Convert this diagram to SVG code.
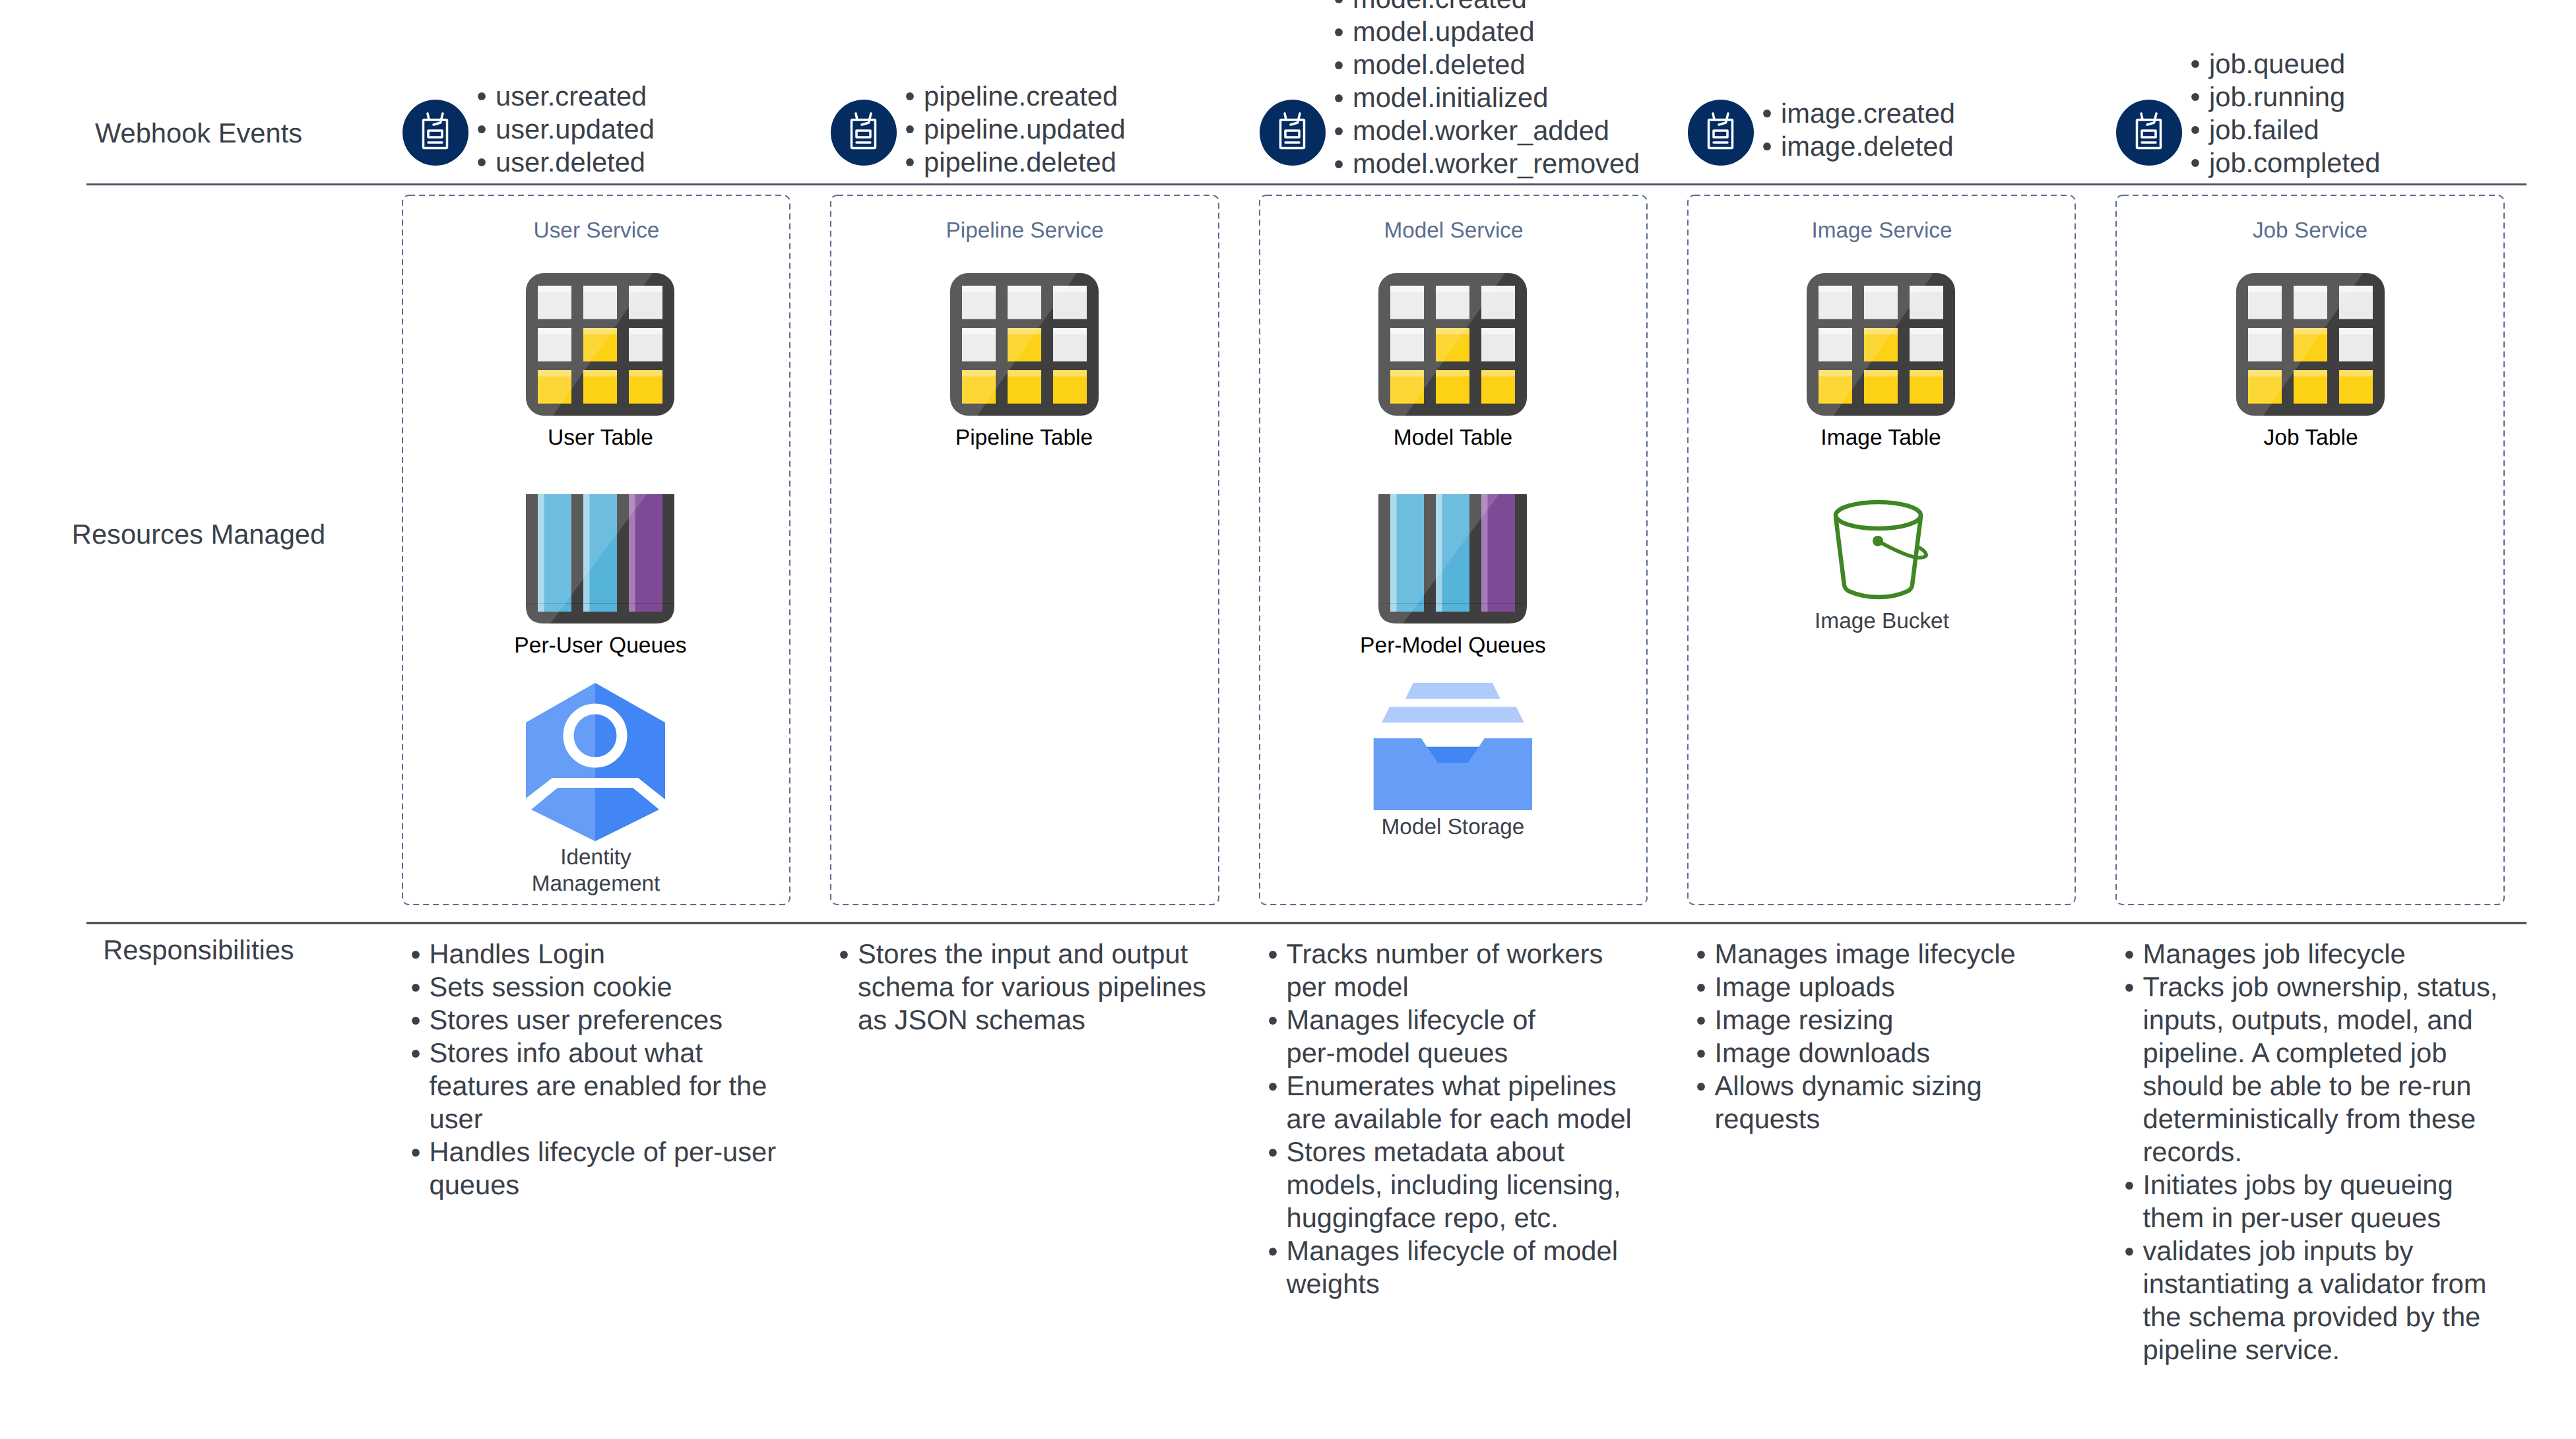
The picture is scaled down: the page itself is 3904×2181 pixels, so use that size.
<svg xmlns="http://www.w3.org/2000/svg" width="3904" height="2181" viewBox="0 0 3904 2181">
<style>
text{font-family:"Liberation Sans",Arial,sans-serif;text-rendering:geometricPrecision}
.t{font-size:41.67px;fill:#3a414a}
.m{text-anchor:middle}
.s{font-size:33.33px}
.svc{fill:#5a6e90}
.k{fill:#000;font-size:33.6px}
.g{fill:#3a414a}
.box{fill:none;stroke:#5a6e90;stroke-width:2;stroke-dasharray:9 6}
.b{fill:#3a414a}
.w{fill:none;stroke:#fff;stroke-width:3.5;stroke-linecap:round;stroke-linejoin:round}
</style>
<defs>
<clipPath id="tc"><rect width="225" height="216" rx="27"/></clipPath>
<clipPath id="qc"><path d="M1 0H224Q225 0 225 1V169Q225 196 198 196H27Q0 196 0 169V1Q0 0 1 0Z"/></clipPath>
<g id="cw"><rect width="51" height="51" fill="#ebebeb"/><rect width="51" height="9.5" fill="#f6f6f6"/><rect y="50" width="51" height="1" fill="#aaa"/></g>
<g id="cy"><rect width="51" height="51" fill="#fdd116"/><rect width="51" height="9.5" fill="#fedf62"/><rect y="50" width="51" height="1" fill="#c9a412"/></g>
<g id="table-icon"><g clip-path="url(#tc)"><rect width="225" height="216" fill="#3f3f3f"/>
<use href="#cw" x="18" y="19"/><use href="#cw" x="87" y="19"/><use href="#cw" x="156" y="19"/>
<use href="#cw" x="18" y="83"/><use href="#cy" x="87" y="83"/><use href="#cw" x="156" y="83"/>
<use href="#cy" x="18" y="147"/><use href="#cy" x="87" y="147"/><use href="#cy" x="156" y="147"/>
<path d="M0 0H192L41 216H0Z" fill="#fff" fill-opacity=".14"/></g></g>
<g id="queue-icon"><g clip-path="url(#qc)"><rect width="225" height="196" fill="#3f3f3f"/>
<rect x="18" width="51" height="178" fill="#56b3da"/><rect x="18" width="9.5" height="178" fill="#a0d5ea"/>
<rect x="87" width="51" height="178" fill="#56b3da"/><rect x="87" width="9.5" height="178" fill="#a0d5ea"/>
<rect x="156" width="51" height="178" fill="#7e4a96"/><rect x="156" width="9.5" height="178" fill="#a47cb8"/>
<rect y="165" width="225" height="1" fill="#000" fill-opacity=".18"/>
<path d="M0 0H183L37 196H0Z" fill="#fff" fill-opacity=".14"/></g></g>
<g id="badge"><circle cx="50" cy="50" r="50" fill="#042c61"/>
<rect x="31.5" y="30.5" width="36" height="43" rx="1.5" class="w"/>
<path class="w" d="M38 21L40 30M61 21L57.5 35L47 38"/>
<rect x="39" y="47" width="21" height="10" class="w"/>
<path class="w" d="M39 65H60"/></g>
<circle id="dot" r="5.9"/>
</defs>
<rect width="3904" height="2181" fill="#fff"/>

<g id="row-labels">
<text class="t m" x="301" y="216">Webhook Events</text>
<text class="t m" x="301" y="824">Resources Managed</text>
<text class="t m" x="301" y="1454">Responsibilities</text>
</g>

<g id="connectors">
<line x1="131" y1="279.5" x2="3829" y2="279.5" stroke="#4d5565" stroke-width="3"/>
<line x1="131" y1="1399" x2="3829" y2="1399" stroke="#3a414a" stroke-width="3"/>
</g>

<g id="user-events"><use href="#badge" x="610" y="151"/>
<g class="b"><use href="#dot" x="730" y="146"/><use href="#dot" x="730" y="196"/><use href="#dot" x="730" y="246"/></g>
<text class="t" x="751" y="160">user.created</text><text class="t" x="751" y="210">user.updated</text><text class="t" x="751" y="260">user.deleted</text></g>

<g id="pipeline-events"><use href="#badge" x="1259" y="151"/>
<g class="b"><use href="#dot" x="1379" y="146"/><use href="#dot" x="1379" y="196"/><use href="#dot" x="1379" y="246"/></g>
<text class="t" x="1400" y="160">pipeline.created</text><text class="t" x="1400" y="210">pipeline.updated</text><text class="t" x="1400" y="260">pipeline.deleted</text></g>

<g id="model-events"><use href="#badge" x="1909" y="151"/>
<g class="b"><use href="#dot" x="2029" y="-1"/><use href="#dot" x="2029" y="49"/><use href="#dot" x="2029" y="99"/><use href="#dot" x="2029" y="149"/><use href="#dot" x="2029" y="199"/><use href="#dot" x="2029" y="249"/></g>
<text class="t" x="2050" y="12">model.created</text><text class="t" x="2050" y="62">model.updated</text><text class="t" x="2050" y="112">model.deleted</text><text class="t" x="2050" y="162">model.initialized</text><text class="t" x="2050" y="212">model.worker_added</text><text class="t" x="2050" y="262">model.worker_removed</text></g>

<g id="image-events"><use href="#badge" x="2558" y="151"/>
<g class="b"><use href="#dot" x="2678" y="172"/><use href="#dot" x="2678" y="222"/></g>
<text class="t" x="2699" y="186">image.created</text><text class="t" x="2699" y="236">image.deleted</text></g>

<g id="job-events"><use href="#badge" x="3207" y="151"/>
<g class="b"><use href="#dot" x="3327" y="97"/><use href="#dot" x="3327" y="147"/><use href="#dot" x="3327" y="197"/><use href="#dot" x="3327" y="247"/></g>
<text class="t" x="3348" y="111">job.queued</text><text class="t" x="3348" y="161">job.running</text><text class="t" x="3348" y="211">job.failed</text><text class="t" x="3348" y="261">job.completed</text></g>

<g id="user-service"><rect class="box" x="610" y="296" width="587" height="1075" rx="10"/>
<text class="s svc m" x="904" y="360">User Service</text>
<use href="#table-icon" x="797" y="414"/><text class="s k m" x="910" y="674">User Table</text>
<use href="#queue-icon" x="797" y="749"/><text class="s k m" x="910" y="989">Per-User Queues</text>
<g id="identity-icon"><path d="M902 1035L797 1095V1210L837 1179H902Z M902 1194H845L805 1227L902 1275Z" fill="#669df6"/>
<path d="M902 1035L1008 1095V1211.500L967 1179H902Z M902 1194H959L999 1227L902 1275Z" fill="#4285f4"/>
<circle cx="902" cy="1115" r="40.500" fill="none" stroke="#fff" stroke-width="16"/></g>
<text class="s g m" x="903" y="1310">Identity</text><text class="s g m" x="903" y="1350">Management</text></g>

<g id="pipeline-service"><rect class="box" x="1259" y="296" width="588" height="1075" rx="10"/>
<text class="s svc m" x="1553" y="360">Pipeline Service</text>
<use href="#table-icon" x="1440" y="414"/><text class="s k m" x="1552" y="674">Pipeline Table</text></g>

<g id="model-service"><rect class="box" x="1909" y="296" width="587" height="1075" rx="10"/>
<text class="s svc m" x="2203" y="360">Model Service</text>
<use href="#table-icon" x="2089" y="414"/><text class="s k m" x="2202" y="674">Model Table</text>
<use href="#queue-icon" x="2089" y="749"/><text class="s k m" x="2202" y="989">Per-Model Queues</text>
<g id="storage-icon"><path d="M2141.700 1035H2262L2273.700 1059H2130ZM2106 1071.300H2297.700L2309.700 1095.300H2094Z" fill="#aecbfa"/>
<path d="M2162 1131.700H2241.700L2225.700 1156H2178Z" fill="#4285f4"/>
<path d="M2081.700 1119H2154L2178 1156H2225.700L2249.700 1119H2322V1228H2081.700Z" fill="#669df6"/></g>
<text class="s g m" x="2202" y="1264">Model Storage</text></g>

<g id="image-service"><rect class="box" x="2558" y="296" width="587" height="1075" rx="10"/>
<text class="s svc m" x="2852" y="360">Image Service</text>
<use href="#table-icon" x="2738" y="414"/><text class="s k m" x="2850.500" y="674">Image Table</text>
<g id="bucket-icon" fill="none" stroke="#3f8624" stroke-width="6.500">
<ellipse cx="2846.500" cy="781" rx="64.500" ry="20"/>
<path d="M2782 783L2795 887Q2796 893 2802 896Q2822 905 2847 905Q2872 905 2891 896Q2897 893 2898 887L2911 783"/>
<path d="M2846 820C2866 831 2890 843 2905 845C2916 846 2920 843 2919 840C2918 836 2911 831 2905 828" stroke-width="5.500"/>
<circle cx="2846" cy="820" r="8" fill="#3f8624" stroke="none"/></g>
<text class="s g m" x="2852" y="952">Image Bucket</text></g>

<g id="job-service"><rect class="box" x="3207" y="296" width="588" height="1075" rx="10"/>
<text class="s svc m" x="3501" y="360">Job Service</text>
<use href="#table-icon" x="3389" y="414"/><text class="s k m" x="3502" y="674">Job Table</text></g>

<g id="user-responsibilities" class="b">
<use href="#dot" x="630" y="1447"/><use href="#dot" x="630" y="1497"/><use href="#dot" x="630" y="1547"/><use href="#dot" x="630" y="1597"/><use href="#dot" x="630" y="1747"/>
<text class="t" x="650.500" y="1460">Handles Login</text><text class="t" x="650.500" y="1510">Sets session cookie</text><text class="t" x="650.500" y="1560">Stores user preferences</text><text class="t" x="650.500" y="1610">Stores info about what</text><text class="t" x="650.500" y="1660">features are enabled for the</text><text class="t" x="650.500" y="1710">user</text><text class="t" x="650.500" y="1760">Handles lifecycle of per-user</text><text class="t" x="650.500" y="1810">queues</text></g>

<g id="pipeline-responsibilities" class="b">
<use href="#dot" x="1279" y="1447"/>
<text class="t" x="1300" y="1460">Stores the input and output</text><text class="t" x="1300" y="1510">schema for various pipelines</text><text class="t" x="1300" y="1560">as JSON schemas</text></g>

<g id="model-responsibilities" class="b">
<use href="#dot" x="1929" y="1447"/><use href="#dot" x="1929" y="1547"/><use href="#dot" x="1929" y="1647"/><use href="#dot" x="1929" y="1747"/><use href="#dot" x="1929" y="1897"/>
<text class="t" x="1949.500" y="1460">Tracks number of workers</text><text class="t" x="1949.500" y="1510">per model</text><text class="t" x="1949.500" y="1560">Manages lifecycle of</text><text class="t" x="1949.500" y="1610">per-model queues</text><text class="t" x="1949.500" y="1660">Enumerates what pipelines</text><text class="t" x="1949.500" y="1710">are available for each model</text><text class="t" x="1949.500" y="1760">Stores metadata about</text><text class="t" x="1949.500" y="1810">models, including licensing,</text><text class="t" x="1949.500" y="1860">huggingface repo, etc.</text><text class="t" x="1949.500" y="1910">Manages lifecycle of model</text><text class="t" x="1949.500" y="1960">weights</text></g>

<g id="image-responsibilities" class="b">
<use href="#dot" x="2578" y="1447"/><use href="#dot" x="2578" y="1497"/><use href="#dot" x="2578" y="1547"/><use href="#dot" x="2578" y="1597"/><use href="#dot" x="2578" y="1647"/>
<text class="t" x="2598.500" y="1460">Manages image lifecycle</text><text class="t" x="2598.500" y="1510">Image uploads</text><text class="t" x="2598.500" y="1560">Image resizing</text><text class="t" x="2598.500" y="1610">Image downloads</text><text class="t" x="2598.500" y="1660">Allows dynamic sizing</text><text class="t" x="2598.500" y="1710">requests</text></g>

<g id="job-responsibilities" class="b">
<use href="#dot" x="3227" y="1447"/><use href="#dot" x="3227" y="1497"/><use href="#dot" x="3227" y="1797"/><use href="#dot" x="3227" y="1897"/>
<text class="t" x="3247.500" y="1460">Manages job lifecycle</text><text class="t" x="3247.500" y="1510">Tracks job ownership, status,</text><text class="t" x="3247.500" y="1560">inputs, outputs, model, and</text><text class="t" x="3247.500" y="1610">pipeline. A completed job</text><text class="t" x="3247.500" y="1660">should be able to be re-run</text><text class="t" x="3247.500" y="1710">deterministically from these</text><text class="t" x="3247.500" y="1760">records.</text><text class="t" x="3247.500" y="1810">Initiates jobs by queueing</text><text class="t" x="3247.500" y="1860">them in per-user queues</text><text class="t" x="3247.500" y="1910">validates job inputs by</text><text class="t" x="3247.500" y="1960">instantiating a validator from</text><text class="t" x="3247.500" y="2010">the schema provided by the</text><text class="t" x="3247.500" y="2060">pipeline service.</text></g>
</svg>
